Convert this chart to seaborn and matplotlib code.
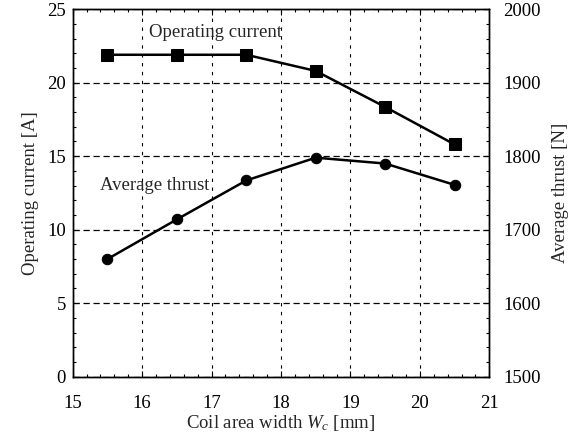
import numpy as np
import pandas as pd
import seaborn as sns
import matplotlib
matplotlib.use('Agg')
import matplotlib.pyplot as plt
from matplotlib.ticker import MultipleLocator

# Data
coil_width = [15.5, 16.5, 17.5, 18.5, 19.5, 20.5]
operating_current = [21.9, 21.9, 21.9, 20.8, 18.35, 15.8]
average_thrust = [1660, 1714, 1767, 1798, 1790, 1761]

x_ticks = [15, 16, 17, 18, 19, 20, 21]
left_ticks = [0, 5, 10, 15, 20, 25]
right_ticks = [1500, 1600, 1700, 1800, 1900, 2000]

sns.set_theme(style='ticks')
plt.rcParams['font.family'] = ['Liberation Serif', 'DejaVu Serif']
plt.rcParams['mathtext.fontset'] = 'custom'
plt.rcParams['mathtext.rm'] = 'Liberation Serif'
plt.rcParams['mathtext.it'] = 'Liberation Serif:italic'
plt.rcParams['axes.edgecolor'] = 'black'
plt.rcParams['axes.linewidth'] = 1.0
FS = 13.5

fig = plt.figure(figsize=(5.77, 4.38), dpi=100)
ax = fig.add_axes([0.126, 0.140, 0.722, 0.839])
ax.set_axisbelow(True)

df_c = pd.DataFrame({'w': coil_width, 'i': operating_current})
df_t = pd.DataFrame({'w': coil_width, 't': average_thrust})

sns.lineplot(data=df_c, x='w', y='i', ax=ax, color='black', marker='s',
             markersize=8, markeredgecolor='black', linewidth=1.8)

ax.set_xlim(15, 21)
ax.set_ylim(0, 25)
ax.set_xticks(x_ticks)
ax.set_yticks(left_ticks)
ax.xaxis.set_minor_locator(MultipleLocator(0.2))
ax.yaxis.set_minor_locator(MultipleLocator(1))
ax.tick_params(which='both', direction='in', top=True, colors='black',
               labelsize=FS)
ax.tick_params(which='major', length=4, width=0.8)
ax.tick_params(which='minor', length=2, width=0.8)
ax.tick_params(axis='x', pad=13)
ax.tick_params(axis='y', pad=5)
ax.xaxis.grid(True, which='major', linestyle=(0, (3, 5)), color='black', linewidth=0.8)
ax.yaxis.grid(True, which='major', linestyle=(0, (5, 3)), color='black', linewidth=0.9)

ax.set_xlabel('Coil area width $W_c$ [mm]', fontsize=FS, labelpad=1)
ax.set_ylabel('Operating current [A]', fontsize=FS, labelpad=6)

ax2 = ax.twinx()
sns.lineplot(data=df_t, x='w', y='t', ax=ax2, color='black', marker='o',
             markersize=7.5, markeredgecolor='black', linewidth=1.8)
ax2.set_ylim(1500, 2000)
ax2.set_yticks(right_ticks)
ax2.yaxis.set_minor_locator(MultipleLocator(20))
ax2.tick_params(which='both', direction='in', colors='black', labelsize=FS)
ax2.tick_params(which='major', length=4, width=0.8)
ax2.tick_params(which='minor', length=2, width=0.8)
ax2.tick_params(axis='y', pad=10)
ax2.set_ylabel('Average thrust [N]', fontsize=FS, labelpad=8)
ax2.set_xlabel('')

ax.text(16.1, 23.4, 'Operating current', fontsize=FS, va='center', ha='left')
ax.text(15.39, 13.03, 'Average thrust', fontsize=FS, va='center', ha='left')

for a in (ax, ax2):
    for s in a.spines.values():
        s.set_color('black')
        s.set_linewidth(1.0)

fig.savefig('out.png', dpi=100)
